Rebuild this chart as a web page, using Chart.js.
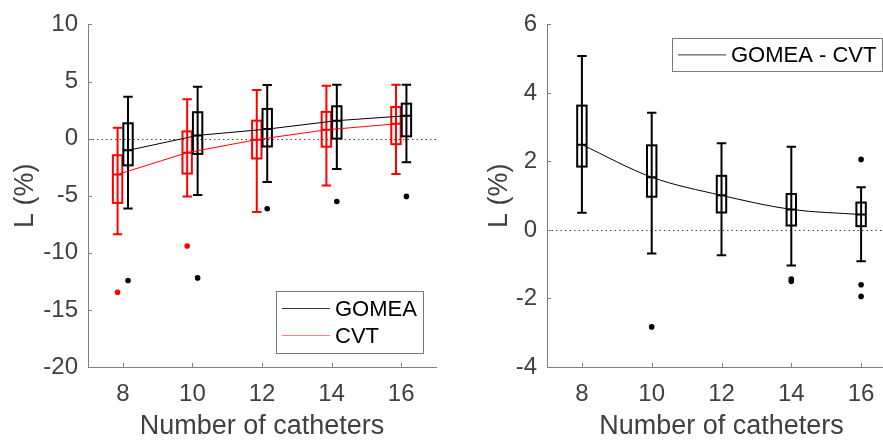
<!DOCTYPE html>
<html lang="en">
<head>
<meta charset="UTF-8">
<title>L (%) vs number of catheters</title>
<script src="https://cdn.jsdelivr.net/npm/chart.js"></script>
<style>
  html, body { margin: 0; padding: 0; background: #fff; overflow: hidden; }
  #wrap { position: relative; width: 883px; height: 443px; overflow: hidden; }
  .panel { position: absolute; top: 0; height: 443px; }
  #left { left: 0; width: 460px; }
  #right { left: 462px; width: 445px; }
</style>
</head>
<body>
<div id="wrap">
  <div class="panel" id="left"><canvas id="c1"></canvas></div>
  <div class="panel" id="right"><canvas id="c2"></canvas></div>
</div>

<script>
const catheters = [8, 10, 12, 14, 16];

// left panel: L (%) per method (whisker hi, q3, median, q1, whisker lo, outliers)
const gomeaHi  = [3.66, 4.54, 4.69, 4.71, 4.71];
const gomeaQ3  = [1.34, 2.31, 2.60, 2.83, 3.06];
const gomeaMed = [-1.03, 0.28, 0.83, 1.57, 2.00];
const gomeaQ1  = [-2.34, -1.34, -0.69, 0.00, 0.20];
const gomeaLo  = [-6.11, -4.94, -3.80, -2.66, -2.08];
const gomeaOut = [[-12.43], [-12.20], [-6.14], [-5.51], [-5.06]];

const cvtHi  = [0.94, 3.45, 4.26, 4.63, 4.71];
const cvtQ3  = [-1.46, 0.63, 1.57, 2.34, 2.77];
const cvtMed = [-3.14, -1.23, -0.09, 0.77, 1.29];
const cvtQ1  = [-5.63, -3.06, -1.74, -0.71, -0.49];
const cvtLo  = [-8.37, -5.06, -6.43, -4.11, -3.11];
const cvtOut = [[-13.45], [-9.40], [], [], []];

// right panel: GOMEA - CVT
const diffHi  = [5.08, 3.42, 2.53, 2.43, 1.25];
const diffQ3  = [3.63, 2.47, 1.58, 1.05, 0.80];
const diffMed = [2.49, 1.54, 1.01, 0.60, 0.45];
const diffQ1  = [1.85, 0.97, 0.51, 0.13, 0.11];
const diffLo  = [0.50, -0.69, -0.74, -1.04, -0.91];
const diffOut = [[], [-2.83], [], [-1.43, -1.50], [2.06, -1.60, -1.94]];

const leftYTicks  = [-20, -15, -10, -5, 0, 5, 10];
const rightYTicks = [-4, -2, 0, 2, 4, 6];

const FONT = '"Liberation Sans", Arial, sans-serif';
const AXIS = '#808080';
const TEXT = '#404040';

function medianLine(label, med, shift, color, smooth) {
  return {
    type: 'line', label: label, legend: true,
    data: catheters.map((c, i) => ({ x: c + shift, y: med[i] })),
    borderColor: color, borderWidth: 1, pointRadius: 0,
    cubicInterpolationMode: smooth ? 'monotone' : 'default', tension: 0
  };
}

function outliers(out, shift, color) {
  const pts = [];
  catheters.forEach((c, i) => out[i].forEach(v => pts.push({ x: c + shift, y: v })));
  return {
    type: 'scatter', data: pts, backgroundColor: color, borderWidth: 0,
    pointRadius: 2.8, showLine: false
  };
}

// box plots, zero line, inward ticks and the legend box
const boxPlugin = {
  id: 'boxes',
  beforeDatasetsDraw(chart, args, opts) {
    const { ctx, chartArea: a, scales: { x, y } } = chart;
    ctx.save();
    ctx.strokeStyle = '#444';
    ctx.lineWidth = 1;
    ctx.setLineDash([1.5, 3]);
    const y0 = Math.round(y.getPixelForValue(0)) + 0.5;
    ctx.beginPath(); ctx.moveTo(a.left, y0); ctx.lineTo(a.right, y0); ctx.stroke();
    ctx.setLineDash([]);

    opts.groups.forEach(g => {
      ctx.strokeStyle = g.color;
      ctx.lineWidth = 2;
      catheters.forEach((c, i) => {
        const cx = x.getPixelForValue(c + g.shift);
        const hw = x.getPixelForValue(c + g.shift + 0.135) - cx;
        const hi = y.getPixelForValue(g.hi[i]), lo = y.getPixelForValue(g.lo[i]);
        const q3 = y.getPixelForValue(g.q3[i]), q1 = y.getPixelForValue(g.q1[i]);
        const md = y.getPixelForValue(g.med[i]);
        ctx.beginPath();
        ctx.moveTo(cx, hi); ctx.lineTo(cx, lo);
        ctx.moveTo(cx - hw, hi); ctx.lineTo(cx + hw, hi);
        ctx.moveTo(cx - hw, lo); ctx.lineTo(cx + hw, lo);
        ctx.moveTo(cx - hw, md); ctx.lineTo(cx + hw, md);
        ctx.stroke();
        ctx.strokeRect(cx - hw, q3, 2 * hw, q1 - q3);
      });
    });
    ctx.restore();
  },
  afterDraw(chart, args, opts) {
    const { ctx, chartArea: a, scales: { x, y } } = chart;
    ctx.save();
    ctx.strokeStyle = AXIS;
    ctx.lineWidth = 1;
    ctx.beginPath();
    x.ticks.forEach(t => {
      const px = Math.round(x.getPixelForValue(t.value)) + 0.5;
      ctx.moveTo(px, a.bottom); ctx.lineTo(px, a.bottom - 4);
    });
    y.ticks.forEach(t => {
      const py = Math.round(y.getPixelForValue(t.value)) + 0.5;
      ctx.moveTo(a.left, py); ctx.lineTo(a.left + 4, py);
    });
    ctx.stroke();

    const L = opts.legend;
    const bx = L.fromLeft != null ? a.left + L.fromLeft : a.right - L.fromRight - L.w;
    const by = L.fromTop != null ? a.top + L.fromTop : a.bottom - L.fromBottom - L.h;
    ctx.fillStyle = '#fff';
    ctx.fillRect(bx, by, L.w, L.h);
    ctx.strokeStyle = '#7a7a7a';
    ctx.strokeRect(Math.round(bx) + 0.5, Math.round(by) + 0.5, L.w, L.h);
    const items = chart.data.datasets.filter(d => d.legend);
    ctx.font = '22px ' + FONT;
    ctx.textBaseline = 'middle';
    items.forEach((d, k) => {
      const cy = by + L.h / 2 + (k - (items.length - 1) / 2) * 27;
      ctx.strokeStyle = d.legendColor || d.borderColor;
      ctx.lineWidth = 1;
      ctx.beginPath(); ctx.moveTo(bx + 6, cy); ctx.lineTo(bx + 54, cy); ctx.stroke();
      ctx.fillStyle = '#000';
      ctx.fillText(d.label, bx + 59, cy + 1);
    });
    ctx.restore();
  }
};

function makeChart(id, cfg) {
  return new Chart(document.getElementById(id), {
    data: { datasets: cfg.datasets },
    plugins: [boxPlugin],
    options: {
      responsive: true,
      maintainAspectRatio: false,
      animation: false,
      layout: { padding: { top: cfg.padTop, right: cfg.padRight, left: 0, bottom: 0 } },
      plugins: {
        legend: { display: false },
        tooltip: { enabled: false },
        boxes: { groups: cfg.groups, legend: cfg.legend }
      },
      scales: {
        x: {
          type: 'linear', min: 7, max: 17,
          afterBuildTicks: s => { s.ticks = catheters.map(v => ({ value: v })); },
          afterFit: s => { s.height = 76; },
          grid: { display: false, drawTicks: false },
          border: { color: AXIS, width: 1 },
          ticks: { color: TEXT, padding: 13, font: { family: FONT, size: 24 } },
          title: {
            display: true, text: 'Number of catheters', color: TEXT,
            padding: { top: 0, bottom: 0 }, font: { family: FONT, size: 27 }
          }
        },
        y: {
          min: cfg.yTicks[0], max: cfg.yTicks[cfg.yTicks.length - 1],
          afterBuildTicks: s => { s.ticks = cfg.yTicks.map(v => ({ value: v })); },
          afterFit: s => { s.width = cfg.yWidth; },
          grid: { display: false, drawTicks: false },
          border: { color: AXIS, width: 1 },
          ticks: { color: TEXT, padding: 10, font: { family: FONT, size: 24 } },
          title: {
            display: true, text: 'L (%)', color: TEXT,
            padding: { top: cfg.titlePad, bottom: 0 }, font: { family: FONT, size: 27 }
          }
        }
      }
    }
  });
}

makeChart('c1', {
  padTop: 18, padRight: 24, yWidth: 88, titlePad: 9, yTicks: leftYTicks,
  groups: [
    { color: '#ff0000', shift: -0.15, hi: cvtHi, q3: cvtQ3, med: cvtMed, q1: cvtQ1, lo: cvtLo },
    { color: '#000000', shift: 0.15, hi: gomeaHi, q3: gomeaQ3, med: gomeaMed, q1: gomeaQ1, lo: gomeaLo }
  ],
  legend: { fromRight: 13, fromBottom: 14, w: 147, h: 62 },
  datasets: [
    Object.assign(medianLine('GOMEA', gomeaMed, 0.15, '#000000', false), { legendColor: '#333' }),
    Object.assign(medianLine('CVT', cvtMed, -0.15, '#ff0000', false), { legendColor: '#ff8080' }),
    outliers(gomeaOut, 0.15, '#000000'),
    outliers(cvtOut, -0.15, '#ff0000')
  ]
});

makeChart('c2', {
  padTop: 19, padRight: 11, yWidth: 85, titlePad: 21, yTicks: rightYTicks,
  groups: [
    { color: '#000000', shift: 0, hi: diffHi, q3: diffQ3, med: diffMed, q1: diffQ1, lo: diffLo }
  ],
  legend: { fromLeft: 125, fromTop: 14, w: 210, h: 33 },
  datasets: [
    Object.assign(medianLine('GOMEA - CVT', diffMed, 0, '#000000', true), { legendColor: '#333' }),
    outliers(diffOut, 0, '#000000')
  ]
});
</script>
</body>
</html>
